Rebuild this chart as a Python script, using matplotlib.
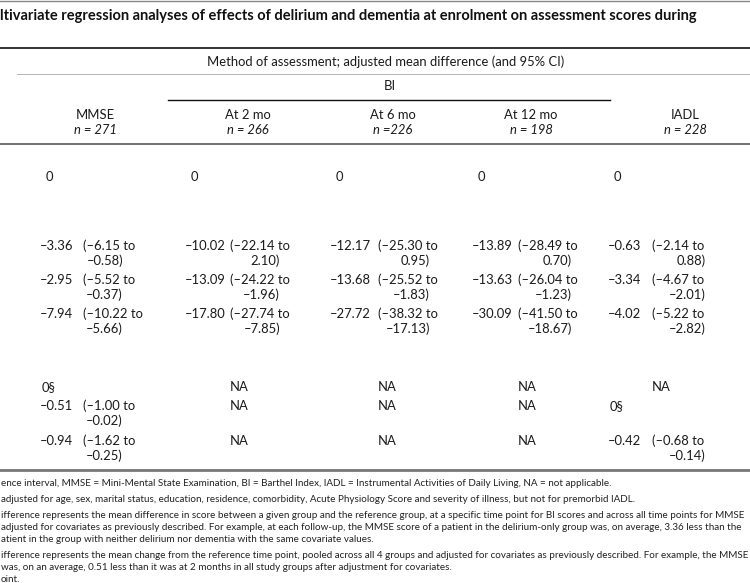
import matplotlib.pyplot as plt
from matplotlib.lines import Line2D

plt.rcParams['font.family'] = ['Lato', 'DejaVu Sans']

# --- table content ---
title = 'ltivariate regression analyses of effects of delirium and dementia at enrolment on assessment scores during'
spanner = 'Method of assessment; adjusted mean difference (and 95% CI)'
columns = ['MMSE', 'At 2 mo', 'At 6 mo', 'At 12 mo', 'IADL']
n_labels = ['n = 271', 'n = 266', 'n =226', 'n = 198', 'n = 228']

# group rows (reference group first)
est_mmse = [0, -3.36, -2.95, -7.94]
lo_mmse = [None, -6.15, -5.52, -10.22]
hi_mmse = [None, -0.58, -0.37, -5.66]

est_bi2 = [0, -10.02, -13.09, -17.80]
lo_bi2 = [None, -22.14, -24.22, -27.74]
hi_bi2 = [None, 2.10, -1.96, -7.85]

est_bi6 = [0, -12.17, -13.68, -27.72]
lo_bi6 = [None, -25.30, -25.52, -38.32]
hi_bi6 = [None, 0.95, -1.83, -17.13]

est_bi12 = [0, -13.89, -13.63, -30.09]
lo_bi12 = [None, -28.49, -26.04, -41.50]
hi_bi12 = [None, 0.70, -1.23, -18.67]

est_iadl = [0, -0.63, -3.34, -4.02]
lo_iadl = [None, -2.14, -4.67, -5.22]
hi_iadl = [None, 0.88, -2.01, -2.82]

# time point rows
t_mmse = ['0§', -0.51, -0.94]
t_lo_mmse = [None, -1.00, -1.62]
t_hi_mmse = [None, -0.02, -0.25]
t_bi = ['NA', 'NA', 'NA']
t_iadl = ['NA', '0§', -0.42]
t_lo_iadl = [None, None, -0.68]
t_hi_iadl = [None, None, -0.14]

footnotes = [
    'ence interval, MMSE = Mini-Mental State Examination, BI = Barthel Index, IADL = Instrumental Activities of Daily Living, NA = not applicable.',
    'adjusted for age, sex, marital status, education, residence, comorbidity, Acute Physiology Score and severity of illness, but not for premorbid IADL.',
    'ifference represents the mean difference in score between a given group and the reference group, at a specific time point for BI scores and across all time points for MMSE',
    'adjusted for covariates as previously described. For example, at each follow-up, the MMSE score of a patient in the delirium-only group was, on average, 3.36 less than the',
    'atient in the group with neither delirium nor dementia with the same covariate values.',
    'ifference represents the mean change from the reference time point, pooled across all 4 groups and adjusted for covariates as previously described. For example, the MMSE',
    'was, on an average, 0.51 less than it was at 2 months in all study groups after adjustment for covariates.',
    'oint.',
]

# --- layout (pixel coords) ---
W, H = 750, 583
fig = plt.figure(figsize=(W / 100, H / 100), dpi=100)
ax = fig.add_axes([0, 0, 1, 1])
ax.set_xlim(0, W)
ax.set_ylim(H, 0)
ax.axis('off')

fs = 9.4
tc = '#1a1a1a'

def hline(y, x0, x1, lw, c):
    ax.add_line(Line2D([x0, x1], [y, y], lw=lw, color=c))

def fmt(v):
    s = f'{abs(v):.2f}'
    return '\u2013' + s if v < 0 else s

hline(1, 0, W, 1.0, '#888888')
ax.text(0, 16, title, fontsize=10.5, fontweight='bold', va='center', color='#111')
hline(48, 0, W, 1.2, '#111111')
ax.text(386, 62, spanner, fontsize=fs, ha='center', va='center', color=tc)
hline(74, 17, W, 0.6, '#aaaaaa')
ax.text(390, 86, 'BI', fontsize=fs, ha='center', va='center', color=tc)
hline(100, 168, 610, 1.0, '#111111')

head_x = [95, 248, 393, 531, 685]
for x, name, n in zip(head_x, columns, n_labels):
    ax.text(x, 115, name, fontsize=fs, ha='center', va='center', color=tc)
    ax.text(x, 130, n, fontsize=fs, ha='center', va='center', style='italic', color=tc)
hline(144, 0, W, 1.3, '#666666')

val_x = [40, 185, 330, 472, 608]
ci_x = [83, 230, 378, 518, 652]
ci_r = [123, 280, 430, 572, 706]

group_y = [177, 246, 280, 314]
time_y = [387, 406, 441]
dy = 15

def draw_cell(c, y, v, lo, hi):
    if isinstance(v, str):
        x = ci_x[c] if v == 'NA' else val_x[c] + 2
        ax.text(x, y, v, fontsize=fs, va='center', color=tc)
        return
    if v == 0 and lo is None:
        ax.text(val_x[c] + 6, y, '0', fontsize=fs, va='center', color=tc)
        return
    ax.text(val_x[c], y, fmt(v), fontsize=fs, va='center', color=tc)
    ax.text(ci_x[c], y, '(' + fmt(lo) + ' to', fontsize=fs, va='center', color=tc)
    ax.text(ci_r[c], y + dy, fmt(hi) + ')', fontsize=fs, va='center', ha='right', color=tc)

group_cols = [(est_mmse, lo_mmse, hi_mmse), (est_bi2, lo_bi2, hi_bi2),
              (est_bi6, lo_bi6, hi_bi6), (est_bi12, lo_bi12, hi_bi12),
              (est_iadl, lo_iadl, hi_iadl)]
for c, (e, lo, hi) in enumerate(group_cols):
    for y, v, l, h in zip(group_y, e, lo, hi):
        draw_cell(c, y, v, l, h)

none3 = [None, None, None]
time_cols = [(t_mmse, t_lo_mmse, t_hi_mmse), (t_bi, none3, none3),
             (t_bi, none3, none3), (t_bi, none3, none3),
             (t_iadl, t_lo_iadl, t_hi_iadl)]
for c, (e, lo, hi) in enumerate(time_cols):
    for y, v, l, h in zip(time_y, e, lo, hi):
        draw_cell(c, y, v, l, h)

hline(470, 0, W, 2.0, '#777777')

foot_y = [483, 499, 515, 527, 539, 555, 567, 579]
for y, line in zip(foot_y, footnotes):
    ax.text(1, y, line, fontsize=7.1, va='center', color='#222')

fig.savefig('out.png', dpi=100)
